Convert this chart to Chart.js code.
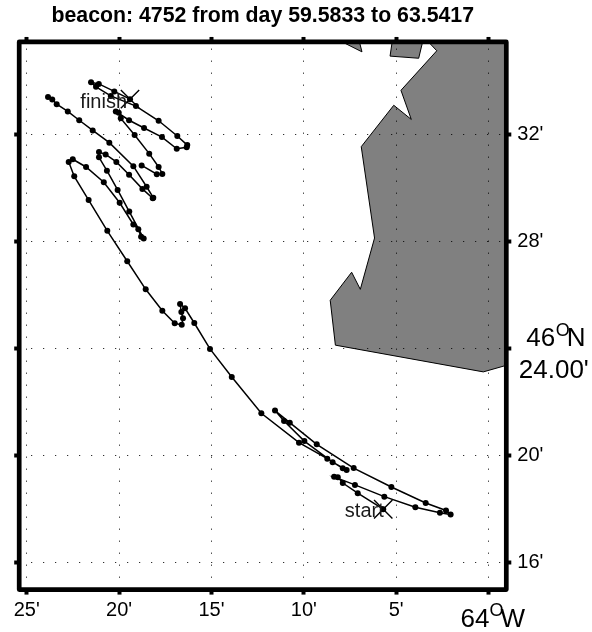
<!DOCTYPE html>
<html><head><meta charset="utf-8">
<style>html,body{margin:0;padding:0;background:#fff}#w{position:relative;width:592px;height:632px}</style>
<script src="https://cdn.jsdelivr.net/npm/chart.js@4/dist/chart.umd.min.js"></script>
</head><body><div id="w"><canvas id="c" width="592" height="632"></canvas></div>
<script>
const titleText = "beacon: 4752 from day 59.5833 to 63.5417";
const lonTicks = [25,20,15,10,5,0];
const lonLabels = ["25'","20'","15'","10'","5'",""];
const latTicks = [32,28,24,20,16];
const latLabels = ["32'","28'","","20'","16'"];
const trackLon = [5.70,7.08,7.89,8.16,8.36,7.23,5.64,3.96,2.63,2.05,2.30,3.40,5.26,7.30,9.30,10.76,11.56,11.07,9.97,8.44,7.68,7.89,8.73,10.26,12.30,13.90,15.08,15.93,16.43,16.70,16.63,16.54,16.61,16.99,17.66,18.56,19.56,20.64,21.65,22.43,22.73,22.51,21.79,20.83,19.97,19.23,18.96,18.81,18.67,19.45,20.08,20.66,21.09,21.09,20.73,20.15,19.46,18.74,18.18,18.15,18.51,19.23,20.53,21.43,22.16,22.78,23.38,23.62,23.85,null,18.78,17.96,17.66,17.86,18.37,19.16,19.91,20.02,20.18,19.46,18.65,17.68,16.88,16.34,16.31,16.85,17.86,19.09,20.45,21.25,21.52,21.10,20.26,19.41];
const trackLat = [17.98,18.58,18.96,19.18,19.19,18.89,18.45,18.05,17.85,17.78,17.93,18.21,18.81,19.52,20.41,21.22,21.67,21.28,20.53,19.74,19.45,19.51,19.87,20.47,21.57,22.93,23.98,24.95,25.50,25.66,25.36,25.13,24.88,24.94,25.41,26.21,27.26,28.40,29.55,30.44,30.98,31.08,30.79,30.22,29.45,28.64,28.46,28.18,28.11,29.12,29.93,30.65,31.15,31.35,31.26,30.98,30.50,29.97,29.62,29.64,30.05,30.82,31.70,32.16,32.54,32.87,33.14,33.32,33.41,null,30.85,30.52,30.53,30.79,31.29,31.99,32.61,32.82,32.87,32.54,32.25,31.91,31.47,31.53,31.61,31.95,32.52,33.07,33.45,33.79,33.96,33.90,33.62,33.33];
const landLon = [3.55,2.80,4.74,4.18,5.13,6.89,6.17,6.94,7.41,8.57,8.29,0.28,-0.84,-1.71,-1.71,3.55,3.55];
const landLat = [35.69,35.14,33.66,32.57,33.10,31.55,28.13,26.21,26.85,25.80,24.12,23.12,23.34,23.57,35.92,35.92,35.69];
const islandLon = [5.17,5.33,3.78,3.49,5.17];
const islandLat = [35.69,34.94,34.86,35.69,35.69];
const spitLon = [8.55,6.85,7.07,8.55];
const spitLat = [35.69,35.10,35.69,35.69];
const endLon = [5.70,19.41];
const endLat = [17.98,33.33];
const endNames = ["start","finish"];
const lonMin = -0.964, lonMax = 25.41, latMin = 14.97, latMax = 35.47;

const pts = (xs,ys) => xs.map((x,i)=>({x:x,y:ys[i]}));
const FONT = '"Liberation Sans", Arial, sans-serif';
const poly = (xs,ys,ord) => ({data:pts(xs,ys),showLine:true,fill:'shape',backgroundColor:'#808080',borderColor:'#000',borderWidth:1,pointRadius:0,tension:0,order:ord});

const annot = {
  id:'annot',
  afterDatasetsDraw(ch){
    const x=ch.scales.x,y=ch.scales.y,g=ch.ctx;
    g.save();
    g.fillStyle='#1a1a1a';g.textBaseline='alphabetic';g.textAlign='right';
    g.font='20px '+FONT;
    const adj=[[0.5,7.5],[-3,9]];
    endNames.forEach((n,i)=>{
      g.fillText(n,x.getPixelForValue(endLon[i])+adj[i][0],y.getPixelForValue(endLat[i])+adj[i][1]);
    });
    g.restore();
  },
  afterDraw(ch){
    const a=ch.chartArea,x=ch.scales.x,y=ch.scales.y,g=ch.ctx;
    g.save();
    g.strokeStyle='#000';g.lineWidth=4.7;g.lineJoin='round';
    g.strokeRect(a.left,a.top,a.right-a.left,a.bottom-a.top);
    g.fillStyle='#000';g.textBaseline='alphabetic';g.textAlign='left';
    const big='26px '+FONT, sup='18px '+FONT;
    const yp=y.getPixelForValue(24), xp=x.getPixelForValue(0);
    g.font=big;g.fillText('46',a.right+20,yp-2);
    g.font=sup;g.fillText('O',a.right+49.5,yp-12.5);
    g.font=big;g.fillText('N',a.right+60.5,yp-2);
    g.fillText("24.00'",a.right+12.5,yp+30);
    g.fillText('64',xp-28,632-5);
    g.font=sup;g.fillText('O',xp+1,632-16);
    g.font=big;g.fillText('W',xp+12,632-5);
    g.restore();
  }
};
const fixed = (prop,val) => (s)=>{s[prop]=val;};
const setTicks = (vals) => (s)=>{s.ticks=vals.map(v=>({value:v}));};
new Chart(document.getElementById('c'),{
  type:'scatter',
  data:{datasets:[
    {data:pts(trackLon,trackLat),showLine:true,spanGaps:false,borderColor:'#000',borderWidth:1.5,backgroundColor:'#000',pointBackgroundColor:'#000',pointBorderColor:'#000',pointRadius:3,pointBorderWidth:0,tension:0,order:1},
    {data:pts(endLon,endLat),showLine:false,pointStyle:'crossRot',pointRadius:13,pointBorderColor:'#000',pointBorderWidth:1.4,borderColor:'#000',backgroundColor:'#000',order:0},
    poly(landLon,landLat,3),
    poly(islandLon,islandLat,4),
    poly(spitLon,spitLat,5)
  ]},
  plugins:[annot],
  options:{
    responsive:false,animation:false,
    layout:{padding:0},
    plugins:{
      legend:{display:false},tooltip:{enabled:false},
      title:{display:true,fullSize:false,text:titleText,color:'#000',font:{family:FONT,size:21.3,weight:'bold'},padding:{top:3.2,bottom:0}}
    },
    scales:{
      x:{type:'linear',reverse:true,position:'bottom',min:lonMin,max:lonMax,
        afterBuildTicks:setTicks(lonTicks),afterFit:fixed('height',42.4),
        border:{display:false,dash:[1,11],dashOffset:5.3},
        grid:{z:1,color:'#000',lineWidth:1,tickColor:'#000',tickLength:5,tickWidth:4,drawTicks:true},
        ticks:{color:'#000',font:{family:FONT,size:20},padding:4,maxRotation:0,autoSkip:false,
          callback:(v)=>lonLabels[lonTicks.indexOf(v)]}},
      y:{type:'linear',position:'right',min:latMin,max:latMax,
        afterBuildTicks:setTicks(latTicks),afterFit:fixed('width',85.7),
        border:{display:false,dash:[1,11]},
        grid:{z:1,color:'#000',lineWidth:1,tickColor:'#000',tickLength:5,tickWidth:4,drawTicks:true},
        ticks:{color:'#000',font:{family:FONT,size:20},padding:6,autoSkip:false,
          callback:(v)=>latLabels[latTicks.indexOf(v)]}},
      x2:{type:'linear',reverse:true,position:'top',min:lonMin,max:lonMax,
        afterBuildTicks:setTicks(lonTicks),afterFit:fixed('height',13.2),
        border:{display:false},
        grid:{drawOnChartArea:false,tickColor:'#000',tickLength:5,tickWidth:4},
        ticks:{display:false}},
      y2:{type:'linear',position:'left',min:latMin,max:latMax,
        afterBuildTicks:setTicks(latTicks),afterFit:fixed('width',19.2),
        border:{display:false},
        grid:{drawOnChartArea:false,tickColor:'#000',tickLength:5,tickWidth:4},
        ticks:{display:false}}
    }
  }
});
</script></body></html>
